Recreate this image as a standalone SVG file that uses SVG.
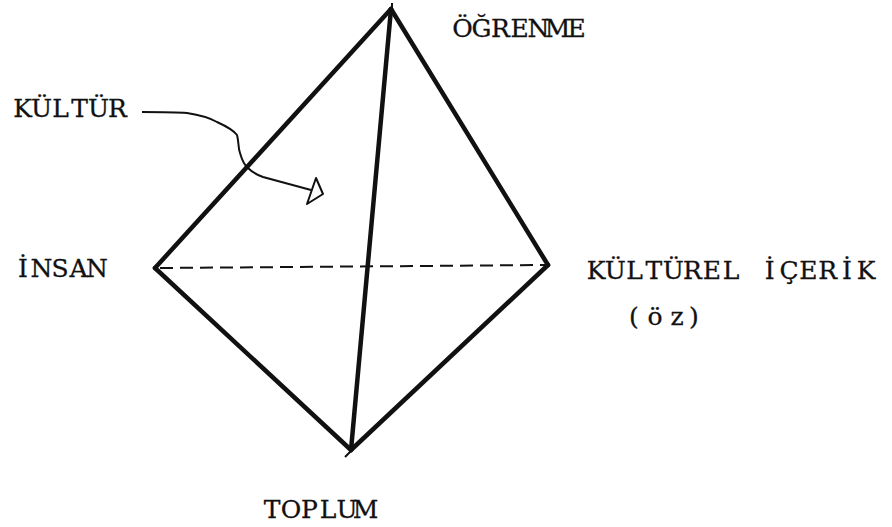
<svg xmlns="http://www.w3.org/2000/svg" width="892" height="527" viewBox="0 0 892 527">
<style>
text{font-family:"DejaVu Serif","Liberation Serif",serif;font-size:25px;fill:#111;stroke:#111;stroke-width:.3;text-anchor:middle}
.e{fill:none;stroke:#111;stroke-width:4.5;stroke-linecap:round}
.d{fill:none;stroke:#111;stroke-width:2;stroke-dasharray:13 7}
.c{fill:none;stroke:#111;stroke-width:2}
</style>
<rect width="892" height="527" fill="#fff"/>
<g id="connectors">
<path class="e" d="M391 9L155 268"/>
<path class="e" d="M391 9L548 265"/>
<path class="e" d="M391 9L351 450"/>
<path class="e" d="M155 268L351 450"/>
<path class="e" d="M548 265L351 450"/>
<path class="c" d="M392 3L392 10M345 457L351 451"/>
<path class="d" d="M160 268L548 265"/>
<path class="c" d="M142 112C160 112 175 112 187 113C200 115 210 118 217 122C228 127 234 131 237 135C239 142 238 148 240 153C242 160 244 165 248 168C252 172 257 175 263 177L311 190"/>
<path class="c" stroke-width="3" stroke-linejoin="round" d="M316 178L323 194L307 204Z"/>
</g>
<g id="ogrenme"><text x="462.5 481.5 500.5 519.5 538.5 557.5 576.5" y="37">ÖĞRENME</text></g>
<g id="kultur"><text x="22.5 41.5 60.5 79.5 98.5 117.5" y="117">KÜLTÜR</text></g>
<g id="insan"><text x="23 41.5 60 78.5 97" y="277">İNSAN</text></g>
<g id="kulturel"><text x="596 615.3 634.6 653.9 673.2 692.5 711.8 731.1 750.4 769.7 789 808.3 827.6 846.9 866.2" y="279">KÜLTÜREL İÇERİK</text></g>
<g id="oz"><text x="634 655 677 694" y="325">(öz)</text></g>
<g id="toplum"><text x="272 291 309.5 328 347 365.5" y="518">TOPLUM</text></g>
</svg>
